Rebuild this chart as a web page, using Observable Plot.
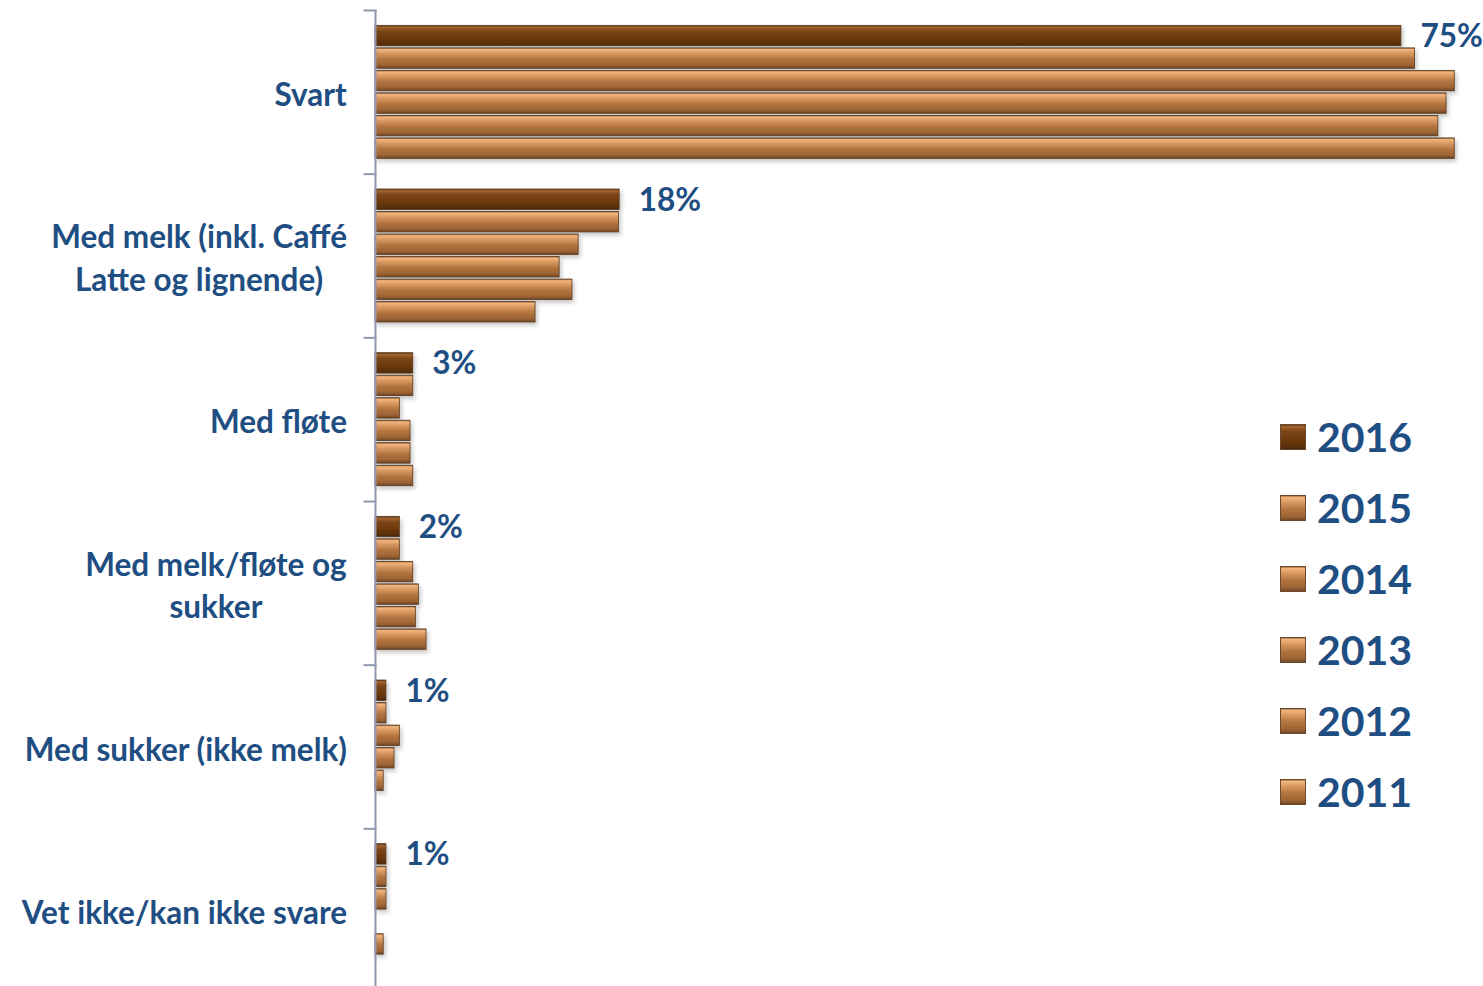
<!DOCTYPE html>
<html>
<head>
<meta charset="utf-8">
<script src="https://cdn.jsdelivr.net/npm/d3@7"></script>
<script src="https://cdn.jsdelivr.net/npm/@observablehq/plot@0.6"></script>
<style>
  body { margin: 0; background: #fff; font-family: Lato, "Open Sans", sans-serif; }
  #wrap { position: relative; width: 1483px; height: 986px; overflow: hidden; }
  #legend { position: absolute; left: 1280px; top: 401px; }
  .lrow { display: flex; align-items: center; height: 71px; }
  .lrow svg { display: block; margin-right: 11px; }
  .lrow span { font: 700 41px Lato, sans-serif; color: #1f4e82; line-height: 1; }
  g[aria-label="bar"] rect { filter: drop-shadow(2px 3px 2px rgba(0,0,0,0.22)); }
</style>
</head>
<body>
<svg width="0" height="0" style="position:absolute">
  <defs>
    <linearGradient id="g2016" x1="0" y1="0" x2="0" y2="1">
      <stop offset="0" stop-color="#4e2a0c"/>
      <stop offset="0.08" stop-color="#a3652f"/>
      <stop offset="0.28" stop-color="#7c4617"/>
      <stop offset="0.65" stop-color="#6a380c"/>
      <stop offset="0.9" stop-color="#5a2f09"/>
      <stop offset="1" stop-color="#3c2006"/>
    </linearGradient>
    <linearGradient id="gOther" x1="0" y1="0" x2="0" y2="1">
      <stop offset="0" stop-color="#8a5a30"/>
      <stop offset="0.08" stop-color="#f3b57e"/>
      <stop offset="0.3" stop-color="#d4955c"/>
      <stop offset="0.55" stop-color="#b37540"/>
      <stop offset="0.85" stop-color="#9b6334"/>
      <stop offset="1" stop-color="#6c4322"/>
    </linearGradient>
  </defs>
</svg>
<div id="wrap"><div id="legend"></div></div>
<script>
const categories = [
  "Svart",
  "Med melk (inkl. Caffé\nLatte og lignende)",
  "Med fløte",
  "Med melk/fløte og\nsukker",
  "Med sukker (ikke melk)",
  "Vet ikke/kan ikke svare"
];
const years = ["2016", "2015", "2014", "2013", "2012", "2011"];
const s2016 = [75, 17.85, 2.76, 1.78, 0.8, 0.8];
const s2015 = [76, 17.8, 2.76, 1.78, 0.8, 0.8];
const s2014 = [78.9, 14.85, 1.78, 2.76, 1.78, 0.8];
const s2013 = [78.3, 13.46, 2.56, 3.17, 1.39, null];
const s2012 = [77.7, 14.4, 2.56, 2.95, 0.6, 0.6];
const s2011 = [78.9, 11.7, 2.76, 3.73, null, null];
const labels2016 = ["75%", "18%", "3%", "2%", "1%", "1%"];

const series = {"2016": s2016, "2015": s2015, "2014": s2014, "2013": s2013, "2012": s2012, "2011": s2011};
const rows = [];
categories.forEach((c, i) => years.forEach(y => {
  if (series[y][i] != null) rows.push({cat: c, year: y, value: series[y][i]});
}));
const labelRows = categories.map((c, i) => ({cat: c, year: "2016", value: s2016[i], label: labels2016[i]}));
const fills = years.map(y => y === "2016" ? "url(#g2016)" : "url(#gOther)");

const textColor = "#1f4e82";
const chart = Plot.plot({
  width: 1483,
  height: 986,
  marginLeft: 375,
  marginRight: 0,
  marginTop: 10,
  marginBottom: -6,
  style: {fontFamily: "Lato, 'Open Sans', sans-serif", background: "transparent"},
  x: {domain: [0, 81], axis: null},
  y: {domain: years, axis: null, paddingInner: 0.05, paddingOuter: 0.66, round: false},
  fy: {domain: categories, padding: 0, axis: null, round: false},
  color: {domain: years, range: fills},
  marks: [
    Plot.barX(rows, {fy: "cat", y: "year", x: "value", fill: "year", stroke: "#5a3a1e", strokeWidth: 0.8, insetTop: 0.5, insetBottom: 0.5}),
    Plot.ruleX([0], {stroke: "#8e97ad", strokeWidth: 2}),
    Plot.frame({anchor: "top", stroke: "#8e97ad", strokeWidth: 2, insetLeft: -11, insetRight: 1108}),
    Plot.text(labelRows, {fy: "cat", y: "year", x: "value", text: "label", dx: 19, dy: 1, textAnchor: "start", fontSize: 31.5, fontWeight: 700, fill: textColor}),
    Plot.text(categories, {fy: d => d, text: d => d, frameAnchor: "left", dx: -28, textAnchor: "end", lineAnchor: "middle", lineHeight: 1.36, fontSize: 31.5, fontWeight: 700, fill: textColor})
  ]
});
const wrap = document.getElementById("wrap");
wrap.insertBefore(chart, wrap.firstChild);

// center multi-line category labels while keeping their block right-aligned
const flat = categories.map(c => c.replace("\n", ""));
const svgRect = chart.getBoundingClientRect();
chart.querySelectorAll("text").forEach(t => {
  if (flat.includes(t.textContent)) {
    t.setAttribute("text-anchor", "middle");
    const r = t.getBoundingClientRect();
    const shift = (svgRect.left + 347) - r.right;
    const tr = t.getAttribute("transform") || "";
    t.setAttribute("transform", tr + ` translate(${shift},0)`);
  }
});

// legend
const legend = document.getElementById("legend");
years.forEach((y, i) => {
  const row = document.createElement("div");
  row.className = "lrow";
  row.innerHTML = `<svg width="26" height="26"><rect x="0.5" y="0.5" width="25" height="25" fill="${fills[i]}" stroke="#6b4a2e" stroke-width="1"/></svg><span>${y}</span>`;
  legend.appendChild(row);
});
</script>
</body>
</html>
